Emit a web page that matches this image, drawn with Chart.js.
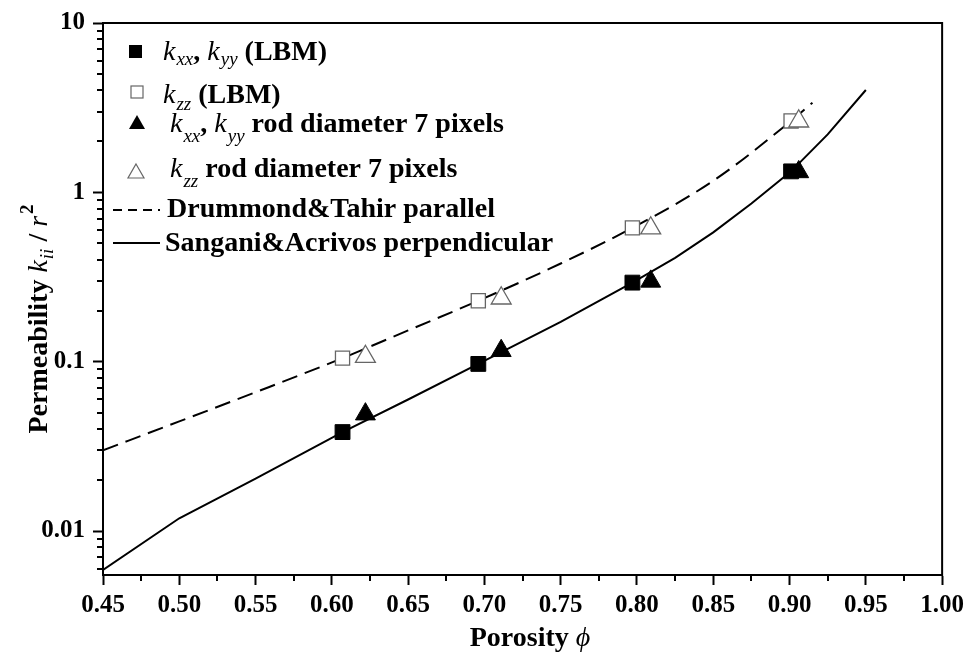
<!DOCTYPE html>
<html>
<head>
<meta charset="utf-8">
<script src="https://cdn.jsdelivr.net/npm/chart.js@4.4.1/dist/chart.umd.min.js"></script>
<style>
  html, body { margin: 0; background: #fff; }
  canvas { display: block; }
</style>
</head>
<body>
<canvas id="permChart" width="970" height="653"></canvas>
<script>
// porosity values and k/r^2
const lbmX = [0.607, 0.696, 0.797, 0.901];
const lbmXY = [0.0384, 0.097, 0.293, 1.33];   // k_xx, k_yy (LBM)
const lbmZZ = [0.105, 0.229, 0.617, 2.64];    // k_zz (LBM)

const rodX = [0.622, 0.711, 0.809, 0.906];
const rodXY = [0.049, 0.116, 0.298, 1.32];    // k_xx, k_yy rod diameter 7 px
const rodZZ = [0.107, 0.237, 0.614, 2.63];    // k_zz rod diameter 7 px

const dtX = [0.45, 0.50, 0.55, 0.607, 0.65, 0.696, 0.75, 0.797, 0.85, 0.901, 0.915];
const dtY = [0.030, 0.0444, 0.066, 0.105, 0.153, 0.229, 0.38, 0.617, 1.17, 2.64, 3.38];

const saX = [0.45, 0.50, 0.55, 0.607, 0.65, 0.696, 0.75, 0.797, 0.825, 0.85, 0.875, 0.901, 0.925, 0.95];
const saY = [0.0059, 0.0119, 0.0204, 0.0384, 0.0598, 0.097, 0.172, 0.293, 0.41, 0.58, 0.86, 1.33, 2.2, 4.02];

const yMajor = [0.01, 0.1, 1, 10];

const SERIF = '"Liberation Serif", "Times New Roman", serif';
const pts = (xs, ys) => xs.map((x, i) => ({ x, y: ys[i] }));

// draw a row of text pieces with different fonts / offsets
function drawRuns(ctx, x, y, runs) {
  runs.forEach(r => {
    ctx.font = r.f;
    ctx.fillText(r.t, x, y + (r.dy || 0));
    x += ctx.measureText(r.t).width + (r.gap || 0);
  });
  return x;
}

const big = 'bold 28px ' + SERIF;
const it = 'italic 28px ' + SERIF;
const sub = 'italic 19px ' + SERIF;

const extras = {
  id: 'extras',
  afterDraw(chart) {
    const ctx = chart.ctx;
    const a = chart.chartArea;
    const xs = chart.scales.x, ys = chart.scales.y;
    ctx.save();
    ctx.strokeStyle = '#000';
    ctx.fillStyle = '#000';
    ctx.lineWidth = 2;
    ctx.strokeRect(a.left, a.top, a.right - a.left, a.bottom - a.top);

    // minor ticks
    ctx.beginPath();
    for (let d = 0.001; d < 10; d *= 10) {
      for (let m = 2; m <= 9; m++) {
        const v = m * d;
        if (v < ys.min || v > ys.max) continue;
        const py = Math.round(ys.getPixelForValue(v));
        ctx.moveTo(a.left - 6, py); ctx.lineTo(a.left, py);
      }
    }
    for (let v = 0.475; v < 1; v += 0.05) {
      const px = Math.round(xs.getPixelForValue(v));
      ctx.moveTo(px, a.bottom); ctx.lineTo(px, a.bottom + 6);
    }
    ctx.stroke();

    // legend
    ctx.textBaseline = 'alphabetic';
    ctx.textAlign = 'left';
    ctx.fillRect(129, 45, 13, 13);
    ctx.lineWidth = 1.2;
    ctx.strokeStyle = '#666';
    ctx.fillStyle = '#fff';
    ctx.fillRect(131, 86, 12, 12);
    ctx.strokeRect(131, 86, 12, 12);
    ctx.fillStyle = '#000';
    ctx.beginPath(); ctx.moveTo(137, 115); ctx.lineTo(145, 129); ctx.lineTo(129, 129); ctx.closePath(); ctx.fill();
    ctx.beginPath(); ctx.moveTo(136, 164); ctx.lineTo(144, 178); ctx.lineTo(128, 178); ctx.closePath(); ctx.stroke();
    ctx.strokeStyle = '#000';
    ctx.lineWidth = 2;
    ctx.setLineDash([9, 6]);
    ctx.beginPath(); ctx.moveTo(113, 210); ctx.lineTo(160, 210); ctx.stroke();
    ctx.setLineDash([]);
    ctx.beginPath(); ctx.moveTo(113, 243); ctx.lineTo(160, 243); ctx.stroke();

    drawRuns(ctx, 163, 60, [
      { t: 'k', f: it, gap: 1 }, { t: 'xx', f: sub, dy: 5 }, { t: ', ', f: big },
      { t: 'k', f: it, gap: 1 }, { t: 'yy', f: sub, dy: 5 }, { t: ' (LBM)', f: big }]);
    drawRuns(ctx, 163, 103, [
      { t: 'k', f: it, gap: 1 }, { t: 'zz', f: sub, dy: 7 }, { t: ' (LBM)', f: big }]);
    drawRuns(ctx, 170, 132, [
      { t: 'k', f: it, gap: 1 }, { t: 'xx', f: sub, dy: 10 }, { t: ', ', f: big },
      { t: 'k', f: it, gap: 1 }, { t: 'yy', f: sub, dy: 10 }, { t: ' rod diameter 7 pixels', f: big }]);
    drawRuns(ctx, 170, 177, [
      { t: 'k', f: it, gap: 1 }, { t: 'zz', f: sub, dy: 10 }, { t: ' rod diameter 7 pixels', f: big }]);
    drawRuns(ctx, 167, 217, [{ t: 'Drummond&Tahir parallel', f: big }]);
    drawRuns(ctx, 165, 251, [{ t: 'Sangani&Acrivos perpendicular', f: big }]);

    // x title
    const xt = [{ t: 'Porosity ', f: big }, { t: '\u03d5', f: it }];
    let w = 0;
    xt.forEach(r => { ctx.font = r.f; w += ctx.measureText(r.t).width; });
    drawRuns(ctx, 530 - w / 2, 646, xt);

    // y title, rotated
    const yt = [
      { t: 'Permeability ', f: big }, { t: 'k', f: it, gap: 1 }, { t: 'ii', f: sub, dy: 6 },
      { t: ' / ', f: big }, { t: 'r', f: it, gap: 2 }, { t: '2', f: 'bold 19px ' + SERIF, dy: -14 }];
    w = 0;
    yt.forEach(r => { ctx.font = r.f; w += ctx.measureText(r.t).width + (r.gap || 0); });
    ctx.translate(47, 319);
    ctx.rotate(-Math.PI / 2);
    drawRuns(ctx, -w / 2, 0, yt);
    ctx.restore();
  }
};

const openStyle = { backgroundColor: '#fff', borderColor: '#666', borderWidth: 1.3 };
const fillStyle = { backgroundColor: '#000', borderColor: '#000', borderWidth: 1 };

new Chart(document.getElementById('permChart'), {
  type: 'scatter',
  data: {
    datasets: [
      { label: 'Sangani&Acrivos perpendicular', data: pts(saX, saY), showLine: true, pointRadius: 0,
        borderColor: '#000', borderWidth: 2, tension: 0, order: 6 },
      { label: 'Drummond&Tahir parallel', data: pts(dtX, dtY), showLine: true, pointRadius: 0,
        borderColor: '#000', borderWidth: 2, borderDash: [16, 8], cubicInterpolationMode: 'monotone', order: 5 },
      { label: 'kxx, kyy (LBM)', data: pts(lbmX, lbmXY), pointStyle: 'rect', pointRadius: 10.5, ...fillStyle, order: 4 },
      { label: 'kzz (LBM)', data: pts(lbmX, lbmZZ), pointStyle: 'rect', pointRadius: 10, ...openStyle, order: 3 },
      { label: 'kxx, kyy rod diameter 7 pixels', data: pts(rodX, rodXY), pointStyle: 'triangle', pointRadius: 11.5, ...fillStyle, order: 2 },
      { label: 'kzz rod diameter 7 pixels', data: pts(rodX, rodZZ), pointStyle: 'triangle', pointRadius: 11.5, ...openStyle, order: 1 }
    ]
  },
  options: {
    responsive: false,
    animation: false,
    devicePixelRatio: 1,
    layout: { padding: { top: 21, right: 26, left: 0, bottom: 0 } },
    plugins: { legend: { display: false }, tooltip: { enabled: false } },
    scales: {
      x: {
        type: 'linear', min: 0.45, max: 1.0,
        afterFit: s => { s.height = 78; },
        ticks: { stepSize: 0.05, color: '#000', padding: 6, maxRotation: 0,
          font: { family: SERIF, size: 25, weight: 'bold' }, callback: v => v.toFixed(2) },
        grid: { drawOnChartArea: false, tickLength: 10, tickWidth: 2, tickColor: '#000' },
        border: { color: '#000', width: 2 }
      },
      y: {
        type: 'logarithmic', min: 0.0055, max: 10,
        afterFit: s => { s.width = 103; },
        afterBuildTicks: s => { s.ticks = yMajor.map(v => ({ value: v })); },
        ticks: { color: '#000', padding: 8, font: { family: SERIF, size: 25, weight: 'bold' },
          callback: v => String(v) },
        grid: { drawOnChartArea: false, tickLength: 10, tickWidth: 2, tickColor: '#000' },
        border: { color: '#000', width: 2 }
      }
    }
  },
  plugins: [extras]
});
</script>
</body>
</html>
